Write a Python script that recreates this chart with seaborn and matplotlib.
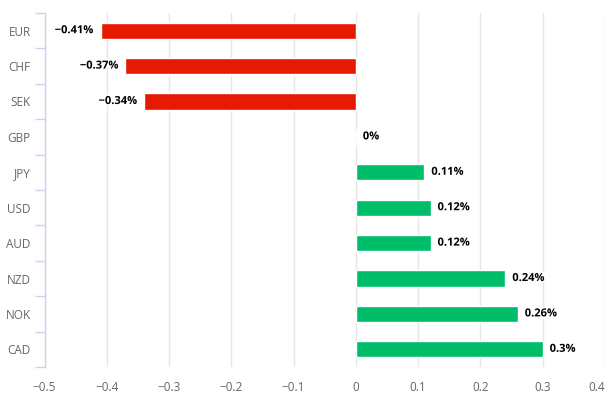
import matplotlib
matplotlib.use("Agg")
import matplotlib.pyplot as plt
import matplotlib.patheffects as pe
import seaborn as sns
import pandas as pd
import numpy as np

currencies = ["EUR", "CHF", "SEK", "GBP", "JPY", "USD", "AUD", "NZD", "NOK", "CAD"]
changes = [-0.41, -0.37, -0.34, 0.0, 0.11, 0.12, 0.12, 0.24, 0.26, 0.30]
labels = ["\u22120.41%", "\u22120.37%", "\u22120.34%", "0%", "0.11%", "0.12%",
          "0.12%", "0.24%", "0.26%", "0.3%"]
xtick_labels = ["\u22120.5", "\u22120.4", "\u22120.3", "\u22120.2", "\u22120.1",
                "0", "0.1", "0.2", "0.3", "0.4"]

red = "#e51a00"
green = "#00bd6a"

df = pd.DataFrame({"currency": currencies, "change": changes})
colors = {c: (red if v < 0 else green) for c, v in zip(currencies, changes)}

sns.set_style("white")
plt.rcParams["font.family"] = ["Open Sans", "DejaVu Sans"]

fig = plt.figure(figsize=(6.11, 3.99), dpi=100)
ax = fig.add_axes([44.5 / 611, 1 - 367 / 399, (605 - 44.5) / 611, (367 - 13) / 399])

sns.barplot(data=df, x="change", y="currency", hue="currency", palette=colors,
            order=currencies, legend=False, width=0.46, ax=ax, saturation=1)

ax.set_xlim(-0.5, 0.4)
ax.set_ylim(len(currencies) - 0.5, -0.5)
ax.set_xticks(np.arange(-0.5, 0.41, 0.1))
ax.set_xticklabels(xtick_labels)
ax.get_xticklabels()[-1].set_ha("right")
ax.grid(axis="x", color="#e6e6e6", linewidth=1)
ax.set_axisbelow(True)
ax.set_xlabel("")
ax.set_ylabel("")

for s in ["top", "right", "bottom"]:
    ax.spines[s].set_visible(False)
ax.spines["left"].set_color("#ccd6eb")
ax.spines["left"].set_linewidth(1)

ax.tick_params(axis="x", length=0, labelsize=8.5, labelcolor="#666666", pad=10)
ax.tick_params(axis="y", which="major", length=0, labelsize=8.5, labelcolor="#666666", pad=10)
ax.set_yticks(np.arange(-0.5, len(currencies), 1.0), minor=True)
ax.tick_params(axis="y", which="minor", left=True, length=7.5, color="#ccd6eb", width=1)

for i, (v, lab) in enumerate(zip(changes, labels)):
    if v < 0:
        t = ax.annotate(lab, (v, i), xytext=(-5, 0), textcoords="offset points",
                        ha="right", va="center")
    else:
        t = ax.annotate(lab, (v, i), xytext=(5, 0), textcoords="offset points",
                        ha="left", va="center")
    t.set_fontsize(8)
    t.set_fontweight("bold")
    t.set_color("#000000")
    t.set_path_effects([pe.withStroke(linewidth=2.5, foreground="white")])

fig.savefig("out.png", dpi=100)
